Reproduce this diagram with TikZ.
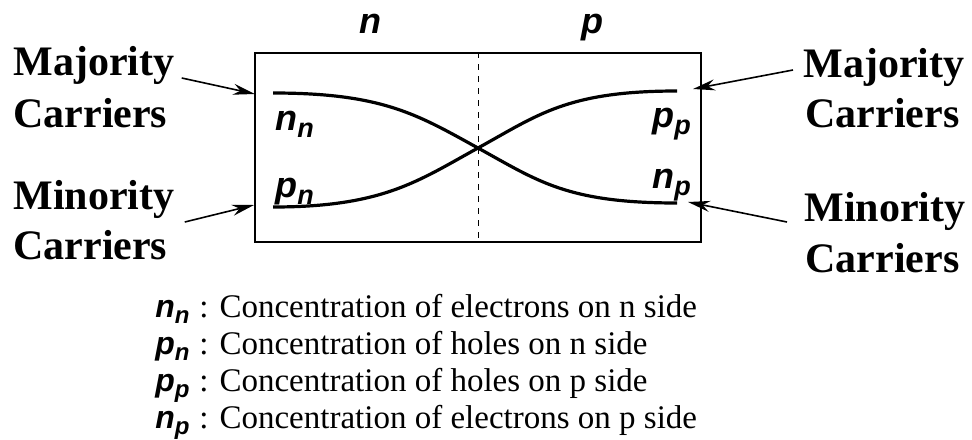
\documentclass[tikz,border=0pt]{standalone}
\usepackage{fontspec}
\setmainfont{Liberation Serif}
\newfontfamily\symfont{Liberation Sans}
\usetikzlibrary{arrows.meta}
\newcommand{\carrier}[2]{#1\raisebox{-0.4ex}{\scalebox{0.75}{#2}}}

\begin{document}
\begin{tikzpicture}[x=0.5pt, y=-0.5pt,
    side/.style={inner sep=0pt, anchor=base west, font=\fontsize{21}{24}\selectfont\bfseries},
    sym/.style={inner sep=0pt, anchor=base west, font=\symfont\bfseries\itshape\fontsize{18}{20}\selectfont},
    legsym/.style={inner sep=0pt, anchor=base west, font=\symfont\bfseries\itshape\fontsize{16}{18}\selectfont},
    legend/.style={inner sep=0pt, anchor=base west, font=\fontsize{16.5}{20}\selectfont},
    curve/.style={line width=1.6pt},
    arrow/.style={-{Stealth[length=11pt,width=5.5pt]}, line width=0.8pt}
]
\useasboundingbox (0,0) rectangle (972,439);

\node[draw, line width=0.9pt, minimum width=223pt, minimum height=94.5pt, inner sep=0pt] (box) at (478,147.5) {};
\draw[dashed, line width=0.5pt] (box.north) -- (box.south);

\node[sym, anchor=base] (nside) at (370,33) {n};
\node[sym, anchor=base] (pside) at (592,33) {p};

\coordinate (nnend) at (273,93);
\coordinate (pnend) at (273,207);
\coordinate (ppend) at (677,91);
\coordinate (npend) at (677,203);
\coordinate (cross) at (478,148);
\draw[curve] (nnend) .. controls +(110,0) and +(-60,-33) .. (cross) .. controls +(60,33) and +(-110,0) .. (npend);
\draw[curve] (pnend) .. controls +(110,0) and +(-60,33) .. (cross) .. controls +(60,-33) and +(-110,0) .. (ppend);

\node[sym] (nn) at (275,130) {\carrier{n}{n}};
\node[sym] (pn) at (275,197) {\carrier{p}{n}};
\node[sym] (pp) at (652,127) {\carrier{p}{p}};
\node[sym] (np) at (652,188) {\carrier{n}{p}};

\node[side] (majL) at (13,75) {Majority};
\node[side] (carA) at (13,127) {Carriers};
\node[side] (minL) at (13,209) {Minority};
\node[side] (carB) at (13,259) {Carriers};
\node[side] (majR) at (803,77) {Majority};
\node[side] (carC) at (805,127) {Carriers};
\node[side] (minR) at (804,221) {Minority};
\node[side] (carD) at (805,272) {Carriers};

\coordinate (tipA) at (255,94);
\coordinate (tipB) at (254,205);
\coordinate (tipC) at (693,89);
\coordinate (tipD) at (688,202);
\draw[arrow] ([shift={(3.5pt,-1.5pt)}]majL.base east) -- (tipA);
\draw[arrow] ([shift={(5pt,-6.5pt)}]minL.base east) -- (tipB);
\draw[arrow] ([shift={(-5pt,3.5pt)}]majR.base west) -- (tipC);
\draw[arrow] ([shift={(-8.5pt,-0.5pt)}]minR.base west) -- (tipD);

\node[legsym] (lgnn) at (155,317) {\carrier{n}{n}};
\node[legsym] (lgpn) at (155,354) {\carrier{p}{n}};
\node[legsym] (lgpp) at (155,391) {\carrier{p}{p}};
\node[legsym] (lgnp) at (155,428) {\carrier{n}{p}};
\node[legend] (txnn) at (199,317) {: Concentration of electrons on n side};
\node[legend] (txpn) at (199,354) {: Concentration of holes on n side};
\node[legend] (txpp) at (199,391) {: Concentration of holes on p side};
\node[legend] (txnp) at (199,428) {: Concentration of electrons on p side};
\end{tikzpicture}
\end{document}
